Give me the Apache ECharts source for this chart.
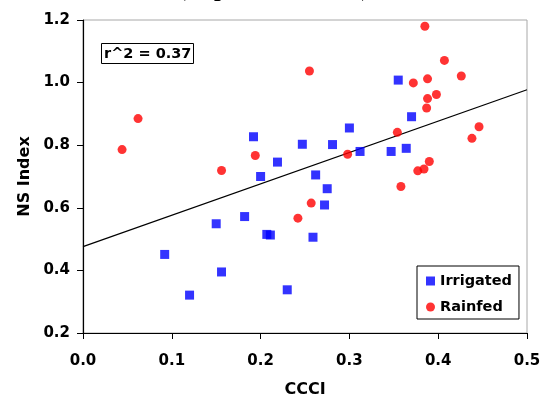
<!DOCTYPE html>
<html>
<head>
<meta charset="utf-8">
<script src="https://cdn.jsdelivr.net/npm/echarts@6/dist/echarts.min.js"></script>
<style>
  html, body { margin: 0; padding: 0; background: #fff; }
  #chart { width: 541px; height: 399px; }
</style>
</head>
<body>
<div id="chart"></div>
<script>
// CCCI vs NS Index, irrigated and rainfed plots
const irrigatedCCCI = [0.092, 0.120, 0.150, 0.156, 0.182, 0.192, 0.200, 0.207, 0.211, 0.219, 0.230, 0.247, 0.259, 0.262, 0.272, 0.275, 0.281, 0.300, 0.312, 0.347, 0.355, 0.364, 0.370];
const irrigatedNS   = [0.451, 0.321, 0.549, 0.395, 0.572, 0.827, 0.700, 0.515, 0.513, 0.746, 0.338, 0.803, 0.506, 0.705, 0.609, 0.661, 0.802, 0.855, 0.780, 0.780, 1.008, 0.790, 0.891];

const rainfedCCCI = [0.044, 0.062, 0.156, 0.194, 0.242, 0.255, 0.257, 0.298, 0.354, 0.358, 0.372, 0.377, 0.384, 0.385, 0.387, 0.388, 0.388, 0.390, 0.398, 0.407, 0.426, 0.438, 0.446];
const rainfedNS   = [0.786, 0.885, 0.719, 0.767, 0.567, 1.037, 0.615, 0.771, 0.841, 0.668, 0.999, 0.718, 0.724, 1.180, 0.919, 1.012, 0.949, 0.748, 0.962, 1.071, 1.021, 0.822, 0.859];

// Linear fit drawn across the full CCCI range
const fitCCCI = [0.0, 0.5];
const fitNS   = [0.476, 0.977];
const rSquared = '0.37';

const xTicks = [0.0, 0.1, 0.2, 0.3, 0.4, 0.5];
const yTicks = [0.2, 0.4, 0.6, 0.8, 1.0, 1.2];

const pairs = (xs, ys) => xs.map((x, i) => [x, ys[i]]);

const chart = echarts.init(document.getElementById('chart'), null, { renderer: 'canvas' });
const sansBold = { fontFamily: 'DejaVu Sans, sans-serif', fontWeight: 'bold', color: '#000' };

chart.setOption({
  animation: false,
  backgroundColor: '#fff',
  title: [
    {
      text: '(Experiment 2003)',
      left: 178, top: -22,
      padding: 0,
      textStyle: { fontFamily: 'Liberation Serif, Times New Roman, serif', fontWeight: 'bold', fontSize: 24, lineHeight: 24, color: '#000' }
    },
    {
      text: 'r^2 = ' + rSquared,
      left: 101, top: 43,
      padding: [3, 2, 2, 3],
      borderColor: '#000', borderWidth: 1,
      backgroundColor: '#fff',
      textStyle: Object.assign({ fontSize: 14.5, lineHeight: 16 }, sansBold)
    }
  ],
  grid: {
    left: 83, top: 20, width: 444, height: 313,
    outerBoundsMode: 'none',
    containLabel: false,
    show: true, borderColor: '#a8a8a8', borderWidth: 1, backgroundColor: 'transparent'
  },
  legend: {
    orient: 'vertical',
    left: 417, top: 266,
    padding: [6, 7, 3, 9],
    itemGap: 8,
    itemWidth: 9, itemHeight: 9,
    borderColor: '#000', borderWidth: 1,
    backgroundColor: '#fff',
    textStyle: Object.assign({ fontSize: 14.5, lineHeight: 18 }, sansBold),
    data: [
      { name: 'Irrigated', icon: 'rect' },
      { name: 'Rainfed', icon: 'circle' }
    ]
  },
  xAxis: {
    type: 'value',
    min: xTicks[0], max: xTicks[xTicks.length - 1], interval: 0.1,
    name: 'CCCI', nameLocation: 'middle', nameGap: 49,
    nameTextStyle: Object.assign({ fontSize: 16 }, sansBold),
    axisLine: { show: true, lineStyle: { color: '#000', width: 1.2 } },
    axisTick: { show: true, inside: false, length: 6, lineStyle: { color: '#000' } },
    axisLabel: Object.assign({ fontSize: 15, margin: 21, formatter: v => v.toFixed(1) }, sansBold),
    splitLine: { show: false }
  },
  yAxis: {
    type: 'value',
    min: yTicks[0], max: yTicks[yTicks.length - 1], interval: 0.2,
    name: 'NS Index', nameLocation: 'middle', nameGap: 48,
    nameTextStyle: Object.assign({ fontSize: 16 }, sansBold),
    axisLine: { show: true, lineStyle: { color: '#000', width: 1.2 } },
    axisTick: { show: true, inside: false, length: 6, lineStyle: { color: '#000' } },
    axisLabel: Object.assign({ fontSize: 15, margin: 13, formatter: v => v.toFixed(1) }, sansBold),
    splitLine: { show: false }
  },
  series: [
    {
      name: 'Fit', type: 'line',
      data: pairs(fitCCCI, fitNS),
      showSymbol: false, symbol: 'none',
      lineStyle: { color: '#000', width: 1.2 },
      z: 1, silent: true
    },
    {
      name: 'Irrigated', type: 'scatter',
      data: pairs(irrigatedCCCI, irrigatedNS),
      symbol: 'rect', symbolSize: 9,
      itemStyle: { color: '#0000ff' },
      z: 3
    },
    {
      name: 'Rainfed', type: 'scatter',
      data: pairs(rainfedCCCI, rainfedNS),
      symbol: 'circle', symbolSize: 9,
      itemStyle: { color: '#ff0000' },
      z: 3
    }
  ]
});
</script>
</body>
</html>
